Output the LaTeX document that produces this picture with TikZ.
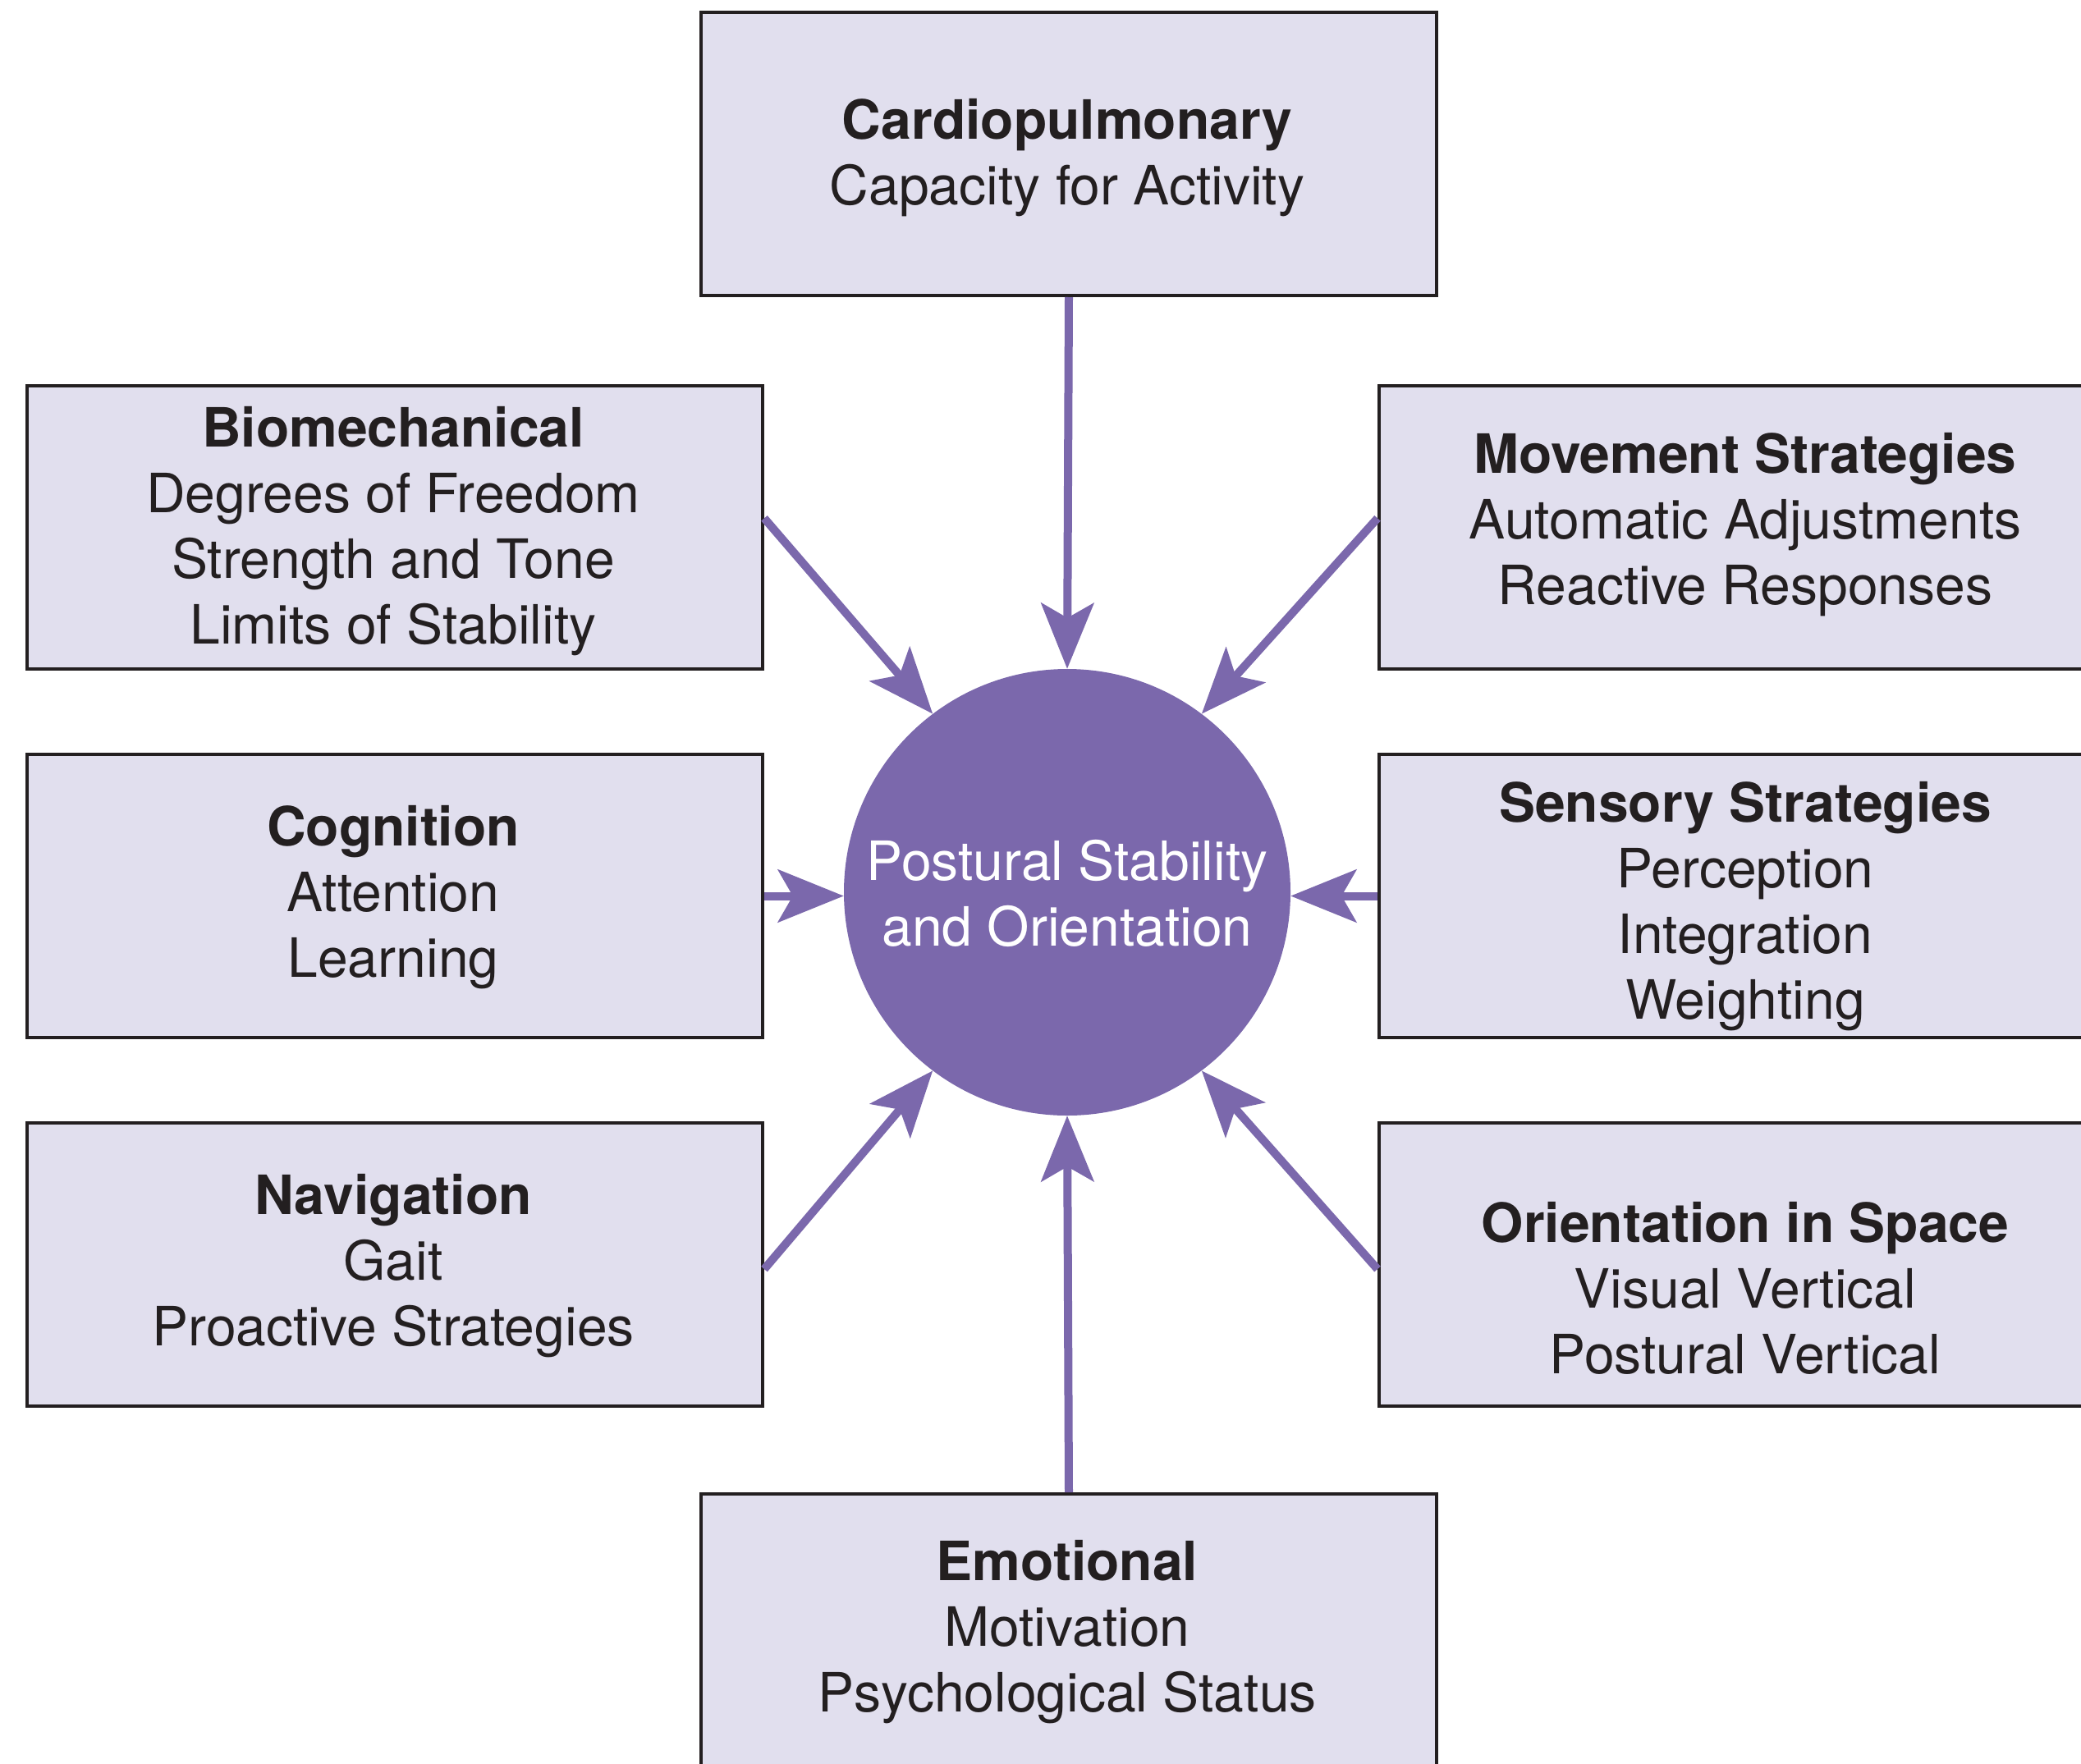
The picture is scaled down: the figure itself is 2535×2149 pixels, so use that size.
\documentclass[tikz,border=0pt]{standalone}
\usepackage{fontspec}
\setmainfont{TeX Gyre Heros}
\usetikzlibrary{arrows.meta,calc}
\definecolor{boxfill}{RGB}{225,223,238}
\definecolor{boxline}{RGB}{35,31,32}
\definecolor{purp}{RGB}{123,104,172}
\begin{document}
\begin{tikzpicture}[x=1pt,y=-1pt,
  box/.style={draw=boxline, line width=4pt, fill=boxfill, rectangle, minimum width=896pt, minimum height=345pt, inner sep=0pt, anchor=north west},
  txt/.style={anchor=north, align=center, inner sep=0pt, font=\fontsize{66}{80}\selectfont, text=boxline},
  ctxt/.style={txt, text=white},
  arr/.style={draw=purp, line width=10pt, -{Stealth[length=80pt,width=64pt,inset=18pt]}}]
\useasboundingbox (0,0) rectangle (2535,2149);
\clip (0,0) rectangle (2535,2149);
\node[box] (cardio) at (852,13) {};
\node[box] (bio) at (31,468) {};
\node[box] (cog) at (31,917) {};
\node[box] (nav) at (31,1366) {};
\node[box] (mov) at (1678,468) {};
\node[box] (sen) at (1678,917) {};
\node[box] (ori) at (1678,1366) {};
\node[box] (emo) at (852,1818) {};
\node[circle, fill=purp, minimum size=544pt, inner sep=0pt] (c) at (1300,1087) {};

\node[txt] (cardio-t) at (1300,120) {\textbf{Cardiopulmonary}\\Capacity for Activity};
\node[txt] (bio-t) at (479,495) {\textbf{Biomechanical}\\Degrees of Freedom\\Strength and Tone\\Limits of Stability};
\node[txt] (cog-t) at (479,981) {\textbf{Cognition}\\Attention\\Learning};
\node[txt] (nav-t) at (479,1430) {\textbf{Navigation}\\Gait\\Proactive Strategies};
\node[txt] (mov-t) at (2126,527) {\textbf{Movement Strategies}\\Automatic Adjustments\\Reactive Responses};
\node[txt] (sen-t) at (2126,952) {\textbf{Sensory Strategies}\\Perception\\Integration\\Weighting};
\node[txt] (ori-t) at (2126,1464) {\textbf{Orientation in Space}\\Visual Vertical\\Postural Vertical};
\node[txt] (emo-t) at (1300,1876) {\textbf{Emotional}\\Motivation\\Psychological Status};
\node[ctxt] (c-t) at (1300,1023) {Postural Stability\\and Orientation};

\draw[arr] (cardio.south) -- (c.north);
\draw[arr] ($(bio.north east)!0.468!(bio.south east)$) -- (c.127);
\draw[arr] ($(mov.north west)!0.468!(mov.south west)$) -- (c.53);
\draw[arr] (cog.east) -- (cog.east -| c.west);
\draw[arr] (sen.west) -- (sen.west -| c.east);
\draw[arr] ($(nav.north east)!0.516!(nav.south east)$) -- (c.233);
\draw[arr] ($(ori.north west)!0.516!(ori.south west)$) -- (c.307);
\draw[arr] (emo.north) -- (c.south);
\end{tikzpicture}
\end{document}
